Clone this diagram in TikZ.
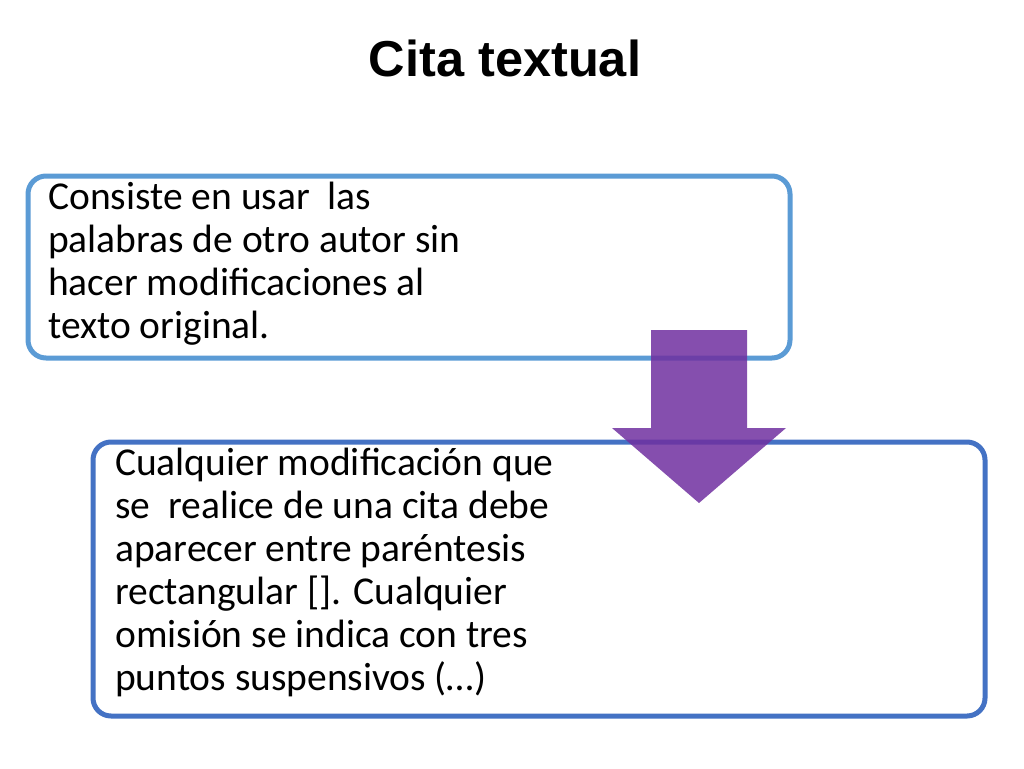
\documentclass[tikz,border=0pt]{standalone}
\usepackage{fontspec}
\setmainfont{Carlito}
\newfontfamily\titlefont{Liberation Sans}
\definecolor{boxa}{HTML}{5B9BD5}
\definecolor{boxb}{HTML}{4472C4}
\definecolor{arr}{HTML}{7030A0}
\begin{document}
\begin{tikzpicture}[x=1pt,y=-1pt,
  box/.style={rounded corners=18pt,line width=5pt,fill=white},
  txt/.style={anchor=north west,align=left,font=\fontsize{39.5}{43}\selectfont,inner sep=0pt}]
\useasboundingbox (0,0) rectangle (1024,768);
\node[font=\titlefont\bfseries\fontsize{50.5}{54}\selectfont] (title) at (505,58) {Cita textual};
\draw[box,draw=boxa] (28,176) rectangle (790,358);
\node[txt] (t1) at (48,182) {Consiste en usar\ \ las\\palabras de otro autor sin\\hacer modificaciones al\\texto original.};
\draw[box,draw=boxb] (93,442) rectangle (985,716);
\node[txt] (t2) at (115,448) {Cualquier modificación que\\se\ \ realice de una cita debe\\aparecer entre paréntesis\\rectangular []. Cualquier\\omisión se indica con tres\\puntos suspensivos (…)};
\fill[arr,opacity=0.85] (651,330) -- (747,330) -- (747,428) -- (786,428) -- (699,503) -- (612,428) -- (651,428) -- cycle;
\end{tikzpicture}
\end{document}
